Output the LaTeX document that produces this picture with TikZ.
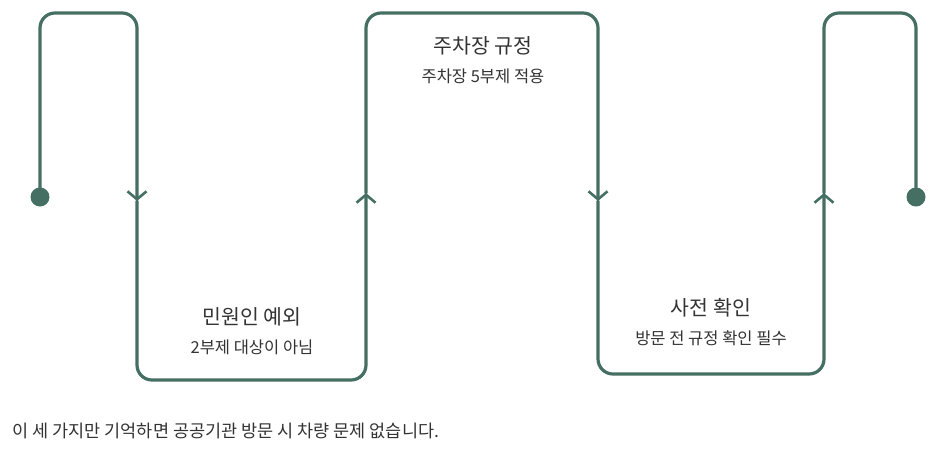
\documentclass[tikz,border=0pt]{standalone}
\usepackage{fontspec}
\setmainfont{Noto Sans CJK KR}
\usetikzlibrary{arrows.meta}
\definecolor{path}{HTML}{466F63}
\definecolor{ink}{HTML}{333333}

\begin{document}
\begin{tikzpicture}[x=1pt,y=-1pt,
  flow/.style={draw=path,line width=3.2pt,rounded corners=15pt,line cap=round},
  chev/.style={-{Straight Barb[length=8pt,width=19pt,line width=2.6pt]}},
  dot/.style={circle,fill=path,inner sep=0pt,minimum size=19pt},
  head/.style={font=\fontsize{20.5}{22}\selectfont,text=ink},
  sub/.style={font=\fontsize{16.5}{18}\selectfont,text=ink}]
\useasboundingbox (0,0) rectangle (949,459);
\node[dot] (start) at (40,197) {};
\node[dot] (stop) at (916,197) {};
\coordinate (c1) at (137,201);
\coordinate (c2) at (366,193);
\coordinate (c3) at (598,201);
\coordinate (c4) at (824,193);
\draw[flow,chev] (start.center) -- (40,13) -- (137,13) -- (c1);
\draw[flow,chev] (c1) -- (137,380) -- (366,380) -- (c2);
\draw[flow,chev] (c2) -- (366,13) -- (598,13) -- (c3);
\draw[flow,chev] (c3) -- (598,374) -- (824,374) -- (c4);
\draw[flow] (c4) -- (824,13) -- (916,13) -- (stop.center);
% labels
\node[head] (rule) at (483,46) {주차장 규정};
\node[sub] (ruletxt) at (483,76) {주차장 5부제 적용};
\node[head] (civil) at (252,317) {민원인 예외};
\node[sub] (civiltxt) at (252,347) {2부제 대상이 아님};
\node[head] (check) at (711,308) {사전 확인};
\node[sub] (checktxt) at (711,338) {방문 전 규정 확인 필수};
\node[sub,anchor=west,font=\fontsize{17.5}{19}\selectfont] (note) at (9,431) {이 세 가지만 기억하면 공공기관 방문 시 차량 문제 없습니다.};
\end{tikzpicture}
\end{document}
